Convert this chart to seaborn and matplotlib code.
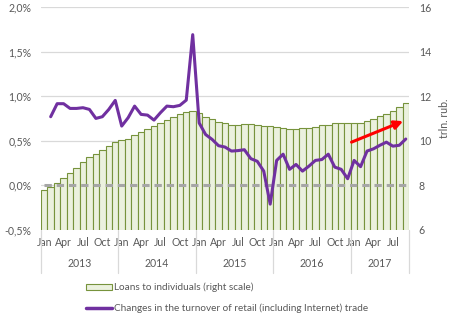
import matplotlib
matplotlib.use("Agg")
import matplotlib.pyplot as plt
import seaborn as sns
import numpy as np
import pandas as pd
from matplotlib.patches import Patch
from matplotlib.lines import Line2D

# ---------------- data ----------------
years = ["2013", "2014", "2015", "2016", "2017"]
month_names = ["Jan", "Feb", "Mar", "Apr", "May", "Jun", "Jul", "Aug", "Sep", "Oct", "Nov", "Dec"]

# Loans to individuals, trln. rub. (right scale), Jan 2013 .. Sep 2017
loans = [7.81, 7.95, 8.12, 8.35, 8.57, 8.79, 9.06, 9.27, 9.42, 9.60, 9.78, 9.96,
         10.02, 10.09, 10.24, 10.39, 10.53, 10.65, 10.81, 10.93, 11.08, 11.20, 11.30, 11.35,
         11.25, 11.08, 10.96, 10.84, 10.78, 10.73, 10.70, 10.76, 10.76, 10.70, 10.66, 10.66,
         10.61, 10.59, 10.54, 10.54, 10.59, 10.59, 10.63, 10.69, 10.73, 10.78, 10.81, 10.81,
         10.78, 10.81, 10.87, 11.00, 11.11, 11.18, 11.33, 11.52, 11.69]

# Changes in the turnover of retail trade, % (left scale), Feb 2013 .. Sep 2017
retail = [0.77, 0.916, 0.916, 0.863, 0.863, 0.871, 0.852, 0.751, 0.77, 0.852, 0.953,
          0.665, 0.759, 0.889, 0.796, 0.788, 0.732, 0.815, 0.889, 0.882, 0.897, 0.956, 1.69,
          0.70, 0.57, 0.516, 0.445, 0.43, 0.385, 0.39, 0.40, 0.30, 0.27, 0.16, -0.21,
          0.28, 0.35, 0.18, 0.235, 0.16, 0.216, 0.28, 0.29, 0.35, 0.205, 0.18, 0.075,
          0.28, 0.21, 0.385, 0.41, 0.45, 0.485, 0.44, 0.45, 0.52]

left_ticks = [-0.5, 0.0, 0.5, 1.0, 1.5, 2.0]
left_tick_labels = ["-0,5%", "0,0%", "0,5%", "1,0%", "1,5%", "2,0%"]
right_ticks = [6, 8, 10, 12, 14, 16]

n = len(loans)
idx = list(range(n))
retail_idx = idx[n - len(retail):]

bar_label = "Loans to individuals (right scale)"
line_label = "Changes in the turnover of retail (including Internet) trade"

# ---------------- style ----------------
sns.set_style("white")
plt.rcParams["font.family"] = ["Lato", "DejaVu Sans"]
txt = "#595959"
fs = 7.6

fig = plt.figure(figsize=(4.54, 3.22), dpi=100)
ax = fig.add_axes([41 / 454, 1 - 230 / 322, 368 / 454, 223 / 322])

df_bars = pd.DataFrame({"i": idx, "v": loans})
sns.barplot(data=df_bars, x="i", y="v", ax=ax, width=1.0, color="#EBF1DE",
            saturation=1, edgecolor="#77933C", linewidth=0.8, zorder=2)
ax.set_ylim(6, 16)
ax.set_xlim(-0.5, n - 0.5)
ax.set_yticks(right_ticks)
ax.set_xlabel("")
ax.grid(axis="y", color="#D9D9D9", lw=0.9)
ax.grid(axis="x", visible=False)
ax.set_axisbelow(True)
for s in ax.spines.values():
    s.set_visible(False)

# month tick labels
mt = [i for i in idx if i % 3 == 0]
ax.set_xticks(mt)
ax.set_xticklabels([month_names[i % 12] for i in mt])
ax.tick_params(axis="x", length=0, pad=5, labelsize=fs, labelcolor=txt)

# year labels & separators
bounds = [-0.5, 11.5, 23.5, 35.5, 47.5, n - 0.5]
trans = ax.get_xaxis_transform()
for b in bounds:
    ax.plot([b, b], [0, -0.195], transform=trans, color="#D9D9D9", lw=0.9, clip_on=False)
for k, y in enumerate(years):
    ax.text((bounds[k] + bounds[k + 1]) / 2, -0.152, y, transform=trans, ha="center",
            va="center", fontsize=fs, color=txt)

# line on twin axis (left scale)
ax2 = ax.twinx()
# right axis (bars) ticks after twinx, which resets ax to the left side
ax.yaxis.tick_right()
ax.yaxis.set_label_position("right")
ax.set_ylabel("trln. rub.", color=txt, fontsize=fs, labelpad=6)
ax.tick_params(axis="y", length=0, pad=7, labelsize=fs, labelcolor=txt)

ax2.set_ylim(-0.5, 2.0)
ax2.yaxis.tick_left()
ax2.yaxis.set_label_position("left")
ax2.set_yticks(left_ticks)
ax2.set_yticklabels(left_tick_labels)
ax2.tick_params(axis="y", length=0, pad=7, labelsize=fs, labelcolor=txt)
for s in ax2.spines.values():
    s.set_visible(False)
ax2.grid(False)

ax2.plot([0, n - 1], [0, 0], color="#A6A6A6", lw=2.2, ls=(0, (2.4, 1.6)), zorder=3)
df_line = pd.DataFrame({"i": retail_idx, "v": retail})
sns.lineplot(data=df_line, x="i", y="v", ax=ax2, color="#7030A0", lw=2.2, zorder=4)
ax2.set_xlabel("")
ax2.set_ylabel("")
ax2.set_xlim(-0.5, n - 0.5)

ax2.annotate("", xy=(55.6, 0.72), xytext=(47.6, 0.485),
             arrowprops=dict(arrowstyle="-|>,head_length=0.5,head_width=0.25",
                             color="#FF0000", lw=2.2, shrinkA=0, shrinkB=0), zorder=5)

handles = [Patch(facecolor="#EBF1DE", edgecolor="#77933C", lw=0.8, label=bar_label),
           Line2D([], [], color="#7030A0", lw=2.5, label=line_label)]
fig.legend(handles=handles, loc="center", bbox_to_anchor=(0.5, 1 - 298 / 322),
           frameon=False, fontsize=7.2, labelcolor=txt, labelspacing=1.1,
           handlelength=2.6, handleheight=0.5, handletextpad=0.2)

fig.savefig("out.png", dpi=100)
